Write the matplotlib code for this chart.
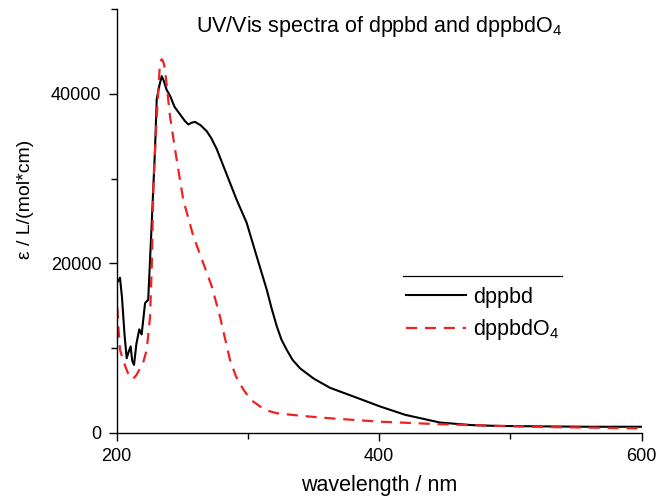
import matplotlib
matplotlib.use("Agg")
import matplotlib.pyplot as plt
from matplotlib.lines import Line2D
from matplotlib.ticker import MultipleLocator

plt.rcParams['font.family'] = ['Liberation Sans', 'DejaVu Sans']
plt.rcParams['mathtext.fontset'] = 'custom'
plt.rcParams['mathtext.rm'] = 'Liberation Sans'
plt.rcParams['mathtext.default'] = 'regular'

# ---- data ----
wl_dppbd = [200, 201.5, 202.5, 204, 206, 207.6, 209, 210.6, 211.8, 213.2, 215, 217.2, 219,
            221.6, 224, 226.7, 229.2, 230.5, 232.5, 234.3, 236, 238, 240.6, 244, 248.2,
            252, 254.6, 257, 259.7, 264, 268.6, 272, 276.2, 280, 283.8, 291.4, 299, 306.7,
            314.3, 318, 321.9, 325.5, 329.5, 334, 339.7, 350, 362.5, 380, 400.6, 420, 446.3,
            470, 489.5, 520, 560, 600]
eps_dppbd = [17700, 18000, 18300, 16000, 11500, 8800, 9500, 10200, 8500, 8000, 10500, 12200,
             11600, 15300, 15700, 24800, 33500, 39400, 41000, 42100, 41500, 40500, 39800,
             38500, 37600, 36800, 36400, 36600, 36700, 36300, 35600, 34800, 33500, 32000,
             30500, 27500, 24800, 20800, 16900, 14700, 12600, 11000, 9800, 8600, 7600, 6400,
             5300, 4300, 3100, 2100, 1200, 900, 800, 750, 700, 700]

wl_dppbdO4 = [200, 201, 202.5, 205, 207.6, 210, 212.7, 215, 217.8, 220, 222.9, 225.4, 226.7,
              228, 230.5, 233, 234.3, 235.5, 236.8, 240.6, 244.4, 250.7, 258.4, 266, 272.4,
              278.7, 286.3, 291, 296.5, 302, 309.2, 315, 321.9, 340, 362.5, 400.6, 446, 515, 600]
eps_dppbdO4 = [17000, 13000, 9800, 8500, 7400, 6500, 6400, 6800, 7600, 8200, 9800, 13700,
               19600, 29500, 37400, 43700, 44100, 43800, 42900, 37400, 33500, 27500, 23200,
               20000, 17300, 13700, 8600, 6600, 5100, 3900, 3100, 2600, 2300, 2000, 1700, 1300,
               1000, 700, 500]

labels = ['dppbd', 'dppbdO$_4$']
title = 'UV/Vis spectra of dppbd and dppbdO$_4$'
xlabel = 'wavelength / nm'
ylabel = 'ε / L/(mol*cm)'
xticks = [200, 400, 600]
yticks = [0, 20000, 40000]

# ---- figure ----
fig = plt.figure(figsize=(6.59, 4.97), dpi=100)
ax = fig.add_axes([0.1771, 0.1294, 0.9737 - 0.1771, 0.9813 - 0.1294])

ax.plot(wl_dppbd, eps_dppbd, color='black', lw=1.5, label=labels[0])
ax.plot(wl_dppbdO4, eps_dppbdO4, color='#ee2222', lw=1.6, ls=(0, (5, 3.5)), label=labels[1])

ax.set_xlim(200, 600)
ax.set_ylim(0, 50000)
ax.set_xticks(xticks)
ax.set_yticks(yticks)
ax.xaxis.set_minor_locator(MultipleLocator(100))
ax.yaxis.set_minor_locator(MultipleLocator(10000))

for s in ['top', 'right']:
    ax.spines[s].set_visible(False)
for s in ['left', 'bottom']:
    ax.spines[s].set_linewidth(1.0)
ax.spines['left'].set_bounds(0, 50000)

ax.tick_params(which='major', direction='out', length=6, width=1.0, labelsize=13, pad=5)
ax.tick_params(which='minor', direction='out', length=4, width=1.0)

ax.text(0.5, 0.9464, title, transform=ax.transAxes, ha='center', va='baseline', fontsize=15.5)

ax.set_xlabel(xlabel, fontsize=15.5)
ax.xaxis.set_label_coords(0.5, -0.099)
ax.set_ylabel(ylabel, fontsize=14)
ax.yaxis.set_label_coords(-0.158, 0.55)

leg = ax.legend(loc='upper left', bbox_to_anchor=(0.551, 0.345), frameon=False,
                fontsize=15.5, handlelength=2.8, handletextpad=0.3, labelspacing=0.45,
                borderaxespad=0, borderpad=0)

fig.add_artist(Line2D([402.7 / 659, 561.7 / 659], [1 - 276 / 497, 1 - 276 / 497],
                      color='black', lw=0.9, transform=fig.transFigure))

fig.savefig('out.png', dpi=100)
